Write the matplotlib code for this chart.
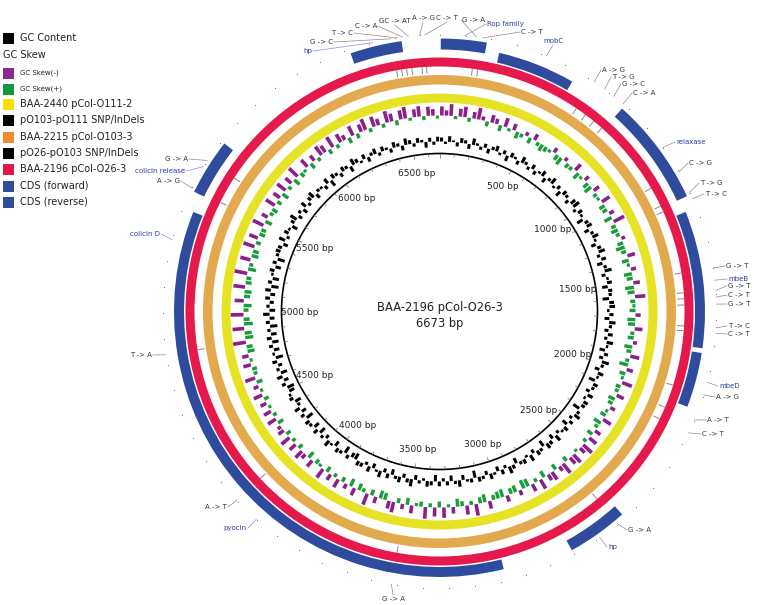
import numpy as np
import matplotlib
matplotlib.use("Agg")
import matplotlib.pyplot as plt
from matplotlib.patches import Wedge, Circle, Rectangle

# plasmid length
L = 6673

# GC content / GC skew per 25 bp window
gc_content = [0.5, -0.3, 0.7, 0.2, -0.5, 0.6, 0.4, -0.6, 0.8, 0.3, -0.4, 0.5,
              -0.6, 0.4, 0.7, -0.3, 0.5, -0.7, 0.6, 0.3, -0.5, 0.8, 0.4, -0.4,
              0.6, -0.5, 0.3, 0.7, -0.6, 0.4, 0.8, -0.3, 0.5, -0.7, 0.6, 0.4,
              -0.5, 0.7, 0.9, -0.4, 0.6, 0.3, -0.8, 0.5, 0.7, -0.6, 0.4, 0.8,
              0.3, -0.6, 0.5, 0.8, -0.4, 0.6, -0.7, 0.4, 0.9, -0.5, 0.3, 0.6,
              -0.7, 0.5, 0.4, -0.8, 0.6, 0.7, -0.3, 0.5, -0.6, 0.8, 0.4, -0.5,
              0.6, -0.4, 0.8, 0.3, -0.7, 0.5, -0.5, 0.9, 0.4, -0.6, 0.7, 0.3,
              -0.8, 0.6, 0.4, -0.5, 0.7, -0.3, 0.6, 0.5, -0.9, 0.4, 0.8, -0.4,
              0.5, -0.7, 0.6, 0.3, -0.4, 0.8, -0.6, 0.5, 0.7, -0.8, 0.4, 0.6,
              -0.5, 0.8, -0.3, 0.6, 0.4, -0.7, 0.5, 0.9, -0.4, 0.6, -0.6, 0.3,
              0.7, -0.5, 0.4, 0.6, -0.9, 0.5, 0.3, -0.6, 0.8, 0.4, -0.7, 0.5,
              -0.4, 0.6, -0.8, 0.5, 0.7, -0.3, 0.4, -0.6, 0.9, 0.5, -0.5, 0.7,
              0.4, -0.7, 0.6, -0.5, 0.8, 0.3, -0.6, 0.7, -0.4, 0.5, 0.6, -0.8,
              -0.6, 0.5, -0.9, 0.4, 0.6, -0.7, 0.3, 0.8, -0.5, 0.4, -0.8, 0.6,
              -0.7, 0.4, 0.6, -0.9, 0.5, -0.6, 0.7, -0.4, -0.8, 0.5, 0.3, -0.7,
              -0.9, 0.5, -0.6, 0.7, -0.8, 0.4, -0.5, 0.6, -0.9, 0.3, -0.7, 0.5,
              -0.8, 0.6, -0.7, 0.4, -0.9, 0.5, -0.6, 0.8, -0.7, 0.4, -0.5, 0.6,
              -0.6, 0.7, -0.9, 0.5, -0.8, 0.3, 0.6, -0.7, 0.5, -0.9, 0.4, 0.6,
              0.5, -0.6, 0.8, -0.4, 0.6, 0.3, -0.7, 0.5, 0.9, -0.5, 0.4, -0.6,
              0.7, -0.4, 0.5, 0.8, -0.6, 0.4, 0.3, -0.5, 0.7, -0.8, 0.6, 0.4,
              -0.5, 0.6, 0.4, -0.7, 0.8, 0.5, -0.3, 0.6, -0.6, 0.4, 0.7, -0.4,
              0.6, 0.3, -0.5, 0.7, 0.4, -0.6, 0.8, 0.5, -0.4, 0.6, 0.3, -0.7,
              0.5, -0.4, 0.6]
gc_skew = [-0.7, -0.4, -0.9, 0.3, -0.6, -0.8, 0.4, -0.5, -0.9, -0.3, 0.5, -0.6,
           -0.4, 0.6, -0.7, 0.3, -0.5, 0.7, 0.4, -0.3, 0.6, -0.5, 0.4, 0.7,
           0.5, 0.3, -0.4, 0.6, 0.8, -0.3, 0.5, 0.4, -0.6, 0.7, 0.3, -0.4,
           0.6, 0.8, -0.5, 0.4, 0.3, -0.7, 0.6, 0.5, -0.4, 0.8, -0.9, 0.5,
           0.7, 0.4, -0.3, 0.6, 0.9, 0.5, -0.6, 0.7, 0.3, -0.4, 0.8, 0.6,
           -0.5, 0.9, 0.7, -0.8, 0.5, 0.3, 0.6, -0.4, 0.8, 0.7, -0.6, 0.4,
           0.6, -0.3, 0.8, 0.5, -0.7, 0.4, 0.9, -0.5, 0.6, 0.3, -0.8, 0.5,
           0.4, -0.6, 0.7, 0.5, -0.4, 0.3, 0.6, -0.7, 0.8, 0.4, -0.5, 0.6,
           -0.7, 0.4, -0.9, -0.5, 0.3, -0.8, -0.6, 0.5, -0.9, -0.4, 0.6, -0.7,
           -0.5, 0.7, -0.8, 0.4, -0.6, 0.8, 0.9, -0.4, 0.7, 0.6, -0.5, 0.8,
           0.7, 0.5, -0.6, 0.8, 0.6, -0.9, 0.4, -0.7, 0.5, 0.8, -0.5, 0.3,
           -0.8, 0.6, -0.7, 0.4, -0.9, 0.5, 0.3, -0.6, 0.7, -0.4, 0.5, -0.8,
           -0.6, 0.7, 0.8, -0.5, 0.6, -0.9, 0.4, 0.7, -0.6, 0.8, -0.4, 0.5,
           -0.7, 0.4, -0.5, 0.6, -0.8, 0.3, 0.5, -0.6, 0.7, -0.4, -0.7, 0.5,
           -0.6, 0.4, -0.8, 0.5, -0.5, -0.3, 0.6, -0.7, 0.4, -0.6, 0.3, -0.5,
           0.5, -0.7, 0.3, -0.4, 0.6, -0.8, 0.4, 0.5, -0.6, 0.3, -0.5, 0.7,
           0.6, -1.0, 0.8, 0.7, -0.9, 0.9, 0.6, -1.0, 0.5, 0.8, -0.7, 0.6,
           0.7, -0.9, 0.6, 0.5, -1.0, 0.8, 0.4, -0.8, 0.7, 0.6, -0.9, 0.5,
           -0.7, 0.6, 0.5, -0.9, 0.7, -0.5, 0.4, 0.6, -0.8, 0.5, -0.6, 0.7,
           -0.8, 0.4, -0.6, 0.7, -0.9, 0.5, 0.3, -0.7, 0.6, -0.5, 0.4, -0.8,
           -0.6, 0.5, -0.9, 0.4, -0.7, -0.4, 0.6, -0.8, 0.5, -0.6, -0.9, 0.4,
           -0.8, -0.5, 0.4, -0.9, -0.6, 0.5, -0.7, -0.9, 0.3, -0.6, -0.8, 0.4,
           -0.7, -0.5, 0.3]
window = 25

# CDS (start bp, end bp)
cds_forward = [(5, 185), (778, 1205), (2558, 2799), (5487, 5709), (6321, 6525)]
cds_reverse = [(241, 556), (1260, 1816), (1835, 2058), (3077, 5413)]

# SNP / InDel positions and their labels
snp_bp = [6486, 6508, 6530, 6553, 6597, 6617, 143, 167,
          630, 678, 723, 769, 1108, 1196, 1223,
          1501, 1587, 1613, 1640, 1731, 1752, 1993, 2095, 2150, 2595,
          3522, 4208, 4838, 5496, 5617]
snp_text = ["G -> C", "T -> C", "C -> A", "GC -> AT", "A -> G", "C -> T", "G -> A", "C -> T",
            "A -> G", "T -> G", "G -> C", "C -> A", "C -> G", "T -> G", "T -> C",
            "G -> T", "G -> T", "C -> T", "G -> T", "T -> C", "C -> T", "A -> G", "A -> T", "C -> T", "G -> A",
            "G -> A", "A -> T", "T -> A", "A -> G", "G -> A"]
snp_lab_pos = [(333, 42, 'right'), (353, 33, 'right'), (377, 26, 'right'), (395, 21, 'center'),
               (423, 18, 'center'), (447, 18, 'center'), (462, 20, 'left'), (521, 32, 'left'),
               (602, 70, 'left'), (612, 77, 'left'), (622, 84, 'left'), (633, 93, 'left'),
               (689, 163, 'left'), (700, 183, 'left'), (705, 194, 'left'),
               (726, 266, 'left'), (728, 286, 'left'), (728, 295, 'left'), (728, 304, 'left'),
               (728, 326, 'left'), (728, 334, 'left'), (716, 397, 'left'), (707, 420, 'left'),
               (702, 434, 'left'), (628, 530, 'left'),
               (393, 599, 'center'), (227, 507, 'right'), (152, 355, 'right'),
               (180, 181, 'right'), (188, 159, 'right')]

gene_text = ["hp", "Rop family", "mobC", "relaxase", "mbeB", "mbeD", "hp",
             "pyocin", "colicin D", "colicin release"]
gene_bp = [6413, 98, 421, 995, 1548, 1943, 2681, 4104, 5283, 5589]
gene_lab_pos = [(312, 51, 'right'), (487, 24, 'left'), (553, 41, 'center'), (676, 142, 'left'),
                (728, 279, 'left'), (719, 386, 'left'), (608, 547, 'left'),
                (247, 528, 'right'), (160, 234, 'right'), (185, 171, 'right')]

legend_names = ["GC Content", "GC Skew(-)", "GC Skew(+)", "BAA-2440 pCol-O111-2",
                "pO103-pO111 SNP/InDels", "BAA-2215 pCol-O103-3", "pO26-pO103 SNP/InDels",
                "BAA-2196 pCol-O26-3", "CDS (forward)", "CDS (reverse)"]
legend_colors = ["#000000", "#8b2a8e", "#10973f", "#ffe100", "#000000", "#f5872f",
                 "#000000", "#e8154b", "#2f4d9f", "#2f4d9f"]
legend_y = [38, 73, 89, 104, 120, 137, 153, 169, 186, 202]

CX, CY = 439.5, 311.5
BLUE = "#2f4b9e"


def ang(bp):
    return bp / L * 360.0


def xy(bp, r):
    a = np.radians(ang(bp))
    return CX + r * np.sin(a), CY - r * np.cos(a)


def arc(ax, b1, b2, r_in, r_out, color):
    ax.add_patch(Wedge((CX, CY), r_out, ang(b1) - 90, ang(b2) - 90,
                       width=r_out - r_in, facecolor=color, edgecolor='none'))


fig = plt.figure(figsize=(7.67, 6.05), dpi=100)
ax = fig.add_axes([0, 0, 1, 1])
ax.set_xlim(0, 767)
ax.set_ylim(605, 0)
ax.axis('off')

# inner scale circle
ax.add_patch(Circle((CX, CY), 158, fill=False, edgecolor='black', lw=1.2))
for bp in range(0, L, 100):
    x0, y0 = xy(bp, 158)
    x1, y1 = xy(bp, 155 if bp % 500 else 154)
    ax.plot([x0, x1], [y0, y1], color='#666666', lw=0.5)
for bp in range(500, L, 500):
    x, y = xy(bp, 140)
    ax.text(x, y, f"{bp} bp", fontsize=6.5, ha='center', va='center', color='#222222')

ax.text(CX, 307, "BAA-2196 pCol-O26-3", fontsize=8.3, ha='center', va='center', color='#222222')
ax.text(CX, 324, "6673 bp", fontsize=8.3, ha='center', va='center', color='#222222')

# GC content
for i, v in enumerate(gc_content):
    b0 = i * window
    b1 = min(b0 + window, L)
    pad = (b1 - b0) * 0.12
    if v >= 0:
        arc(ax, b0 + pad, b1 - pad, 170, 170 + 8 * v, 'black')
    else:
        arc(ax, b0 + pad, b1 - pad, 170 + 8 * v, 170, 'black')

# GC skew: negative outward (purple), positive inward (green)
for i, v in enumerate(gc_skew):
    b0 = i * window
    b1 = min(b0 + window, L)
    pad = (b1 - b0) * 0.12
    if v < 0:
        arc(ax, b0 + pad, b1 - pad, 196, 196 - 13 * v, '#8d1f8d')
    else:
        arc(ax, b0 + pad, b1 - pad, 196 - 10 * v, 196, '#1a9e3c')

# genome rings
arc(ax, 0, L, 209, 218, '#e6e325')
arc(ax, 0, L, 227, 236.5, '#e2a94f')
arc(ax, 0, L, 245, 254, '#e5194b')

# SNP ticks between orange and red
for bp in snp_bp:
    x0, y0 = xy(bp, 238.5)
    x1, y1 = xy(bp, 244.5)
    ax.plot([x0, x1], [y0, y1], color='#8a8a8a', lw=0.7)

# CDS arcs
for b1, b2 in cds_reverse:
    arc(ax, b1, b2, 255.5, 265.5, BLUE)
for b1, b2 in cds_forward:
    arc(ax, b1, b2, 262, 273, BLUE)

# small outer marks
dots = [xy(bp, 277) for bp in range(0, L, 100)]
ax.scatter([d[0] for d in dots], [d[1] for d in dots], s=0.6, color='#666666', lw=0)


def label(text, bp, pos, color, lcolor):
    x, y, ha = pos
    tx, ty = xy(bp, 277)
    if ha == 'left':
        sx, sy = x - 1, y
    elif ha == 'right':
        sx, sy = x + 1, y
    else:
        sx, sy = x, (y + 4 if ty > y else y - 4)
    ax.plot([sx, tx], [sy, ty], color=lcolor, lw=0.5)
    ax.text(x, y, text, fontsize=5, ha=ha, va='center', color=color)


for t, bp, pos in zip(snp_text, snp_bp, snp_lab_pos):
    label(t, bp, pos, '#333333', '#8c8c8c')
for t, bp, pos in zip(gene_text, gene_bp, gene_lab_pos):
    label(t, bp, pos, '#2b3ba0', '#8a8ad0')

# legend
for name, col, y in zip(legend_names, legend_colors, legend_y):
    ax.add_patch(Rectangle((3, y - 5.5), 11, 11, facecolor=col, edgecolor='none'))
    fs = 5 if name.startswith("GC Skew(") else 7
    ax.text(20, y, name, fontsize=fs, ha='left', va='center', color='#222222')
ax.text(3, 55, "GC Skew", fontsize=7, ha='left', va='center', color='#222222')

fig.savefig("out.png", dpi=100)
